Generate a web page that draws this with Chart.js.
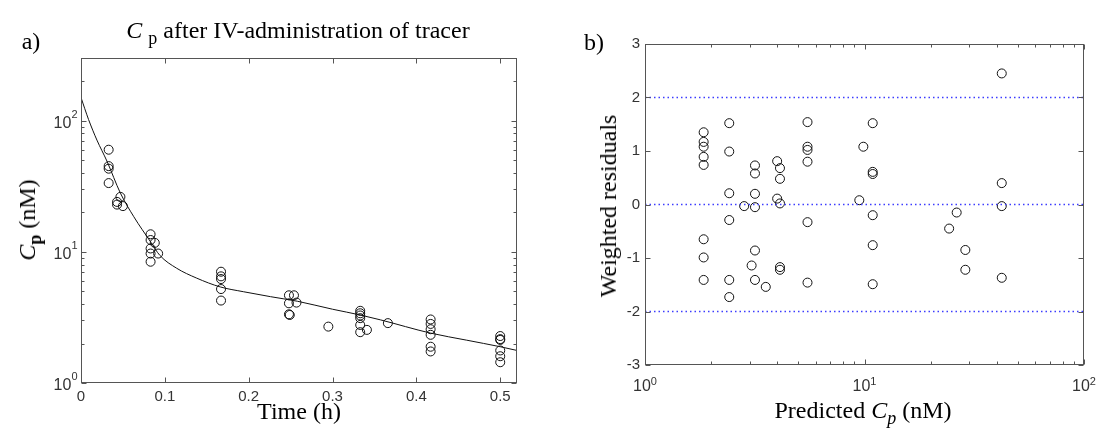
<!DOCTYPE html>
<html>
<head>
<meta charset="utf-8">
<script src="https://cdn.jsdelivr.net/npm/chart.js@4.4.0/dist/chart.umd.min.js"></script>
<style>
  body { margin: 0; background: #fff; }
  #wrap { position: relative; width: 1096px; height: 430px; overflow: hidden; font-family: "Liberation Serif", "Times New Roman", serif; color: #000; }
  .box { position: absolute; top: 0; width: 548px; height: 430px; }
  .lbl { position: absolute; white-space: nowrap; font-size: 24px; line-height: 1; }
  .ctr { transform: translate(-50%, -50%); }
  .rot { transform: translate(-50%, -50%) rotate(-90deg); }
  sub { font-size: 0.75em; vertical-align: -0.35em; line-height: 0; }
</style>
</head>
<body>
<div id="wrap">
  <div class="box" style="left:0"><canvas id="cpChart"></canvas></div>
  <div class="box" style="left:548px"><canvas id="resChart"></canvas></div>

  <div class="lbl ctr" style="left:31px;top:41px">a)</div>
  <div class="lbl ctr" style="left:298px;top:30px"><i>C</i>&nbsp;<sub>p</sub> after IV-administration of tracer</div>
  <div class="lbl ctr" style="left:299px;top:411px">Time (h)</div>
  <div class="lbl rot" style="left:27px;top:220px"><i>C</i><sub><b>p</b></sub> (nM)</div>

  <div class="lbl ctr" style="left:594px;top:42px">b)</div>
  <div class="lbl rot" style="left:608px;top:206px">Weighted residuals</div>
  <div class="lbl ctr" style="left:863px;top:410px">Predicted <i>C<sub>p</sub></i> (nM)</div>
</div>
<script>
// panel a: observed tracer concentrations (nM) vs time (h)
const obsTime = [0.033, 0.033, 0.033, 0.033, 0.043, 0.043, 0.047, 0.05,
  0.083, 0.083, 0.088, 0.083, 0.083, 0.092, 0.083,
  0.167, 0.167, 0.167, 0.167, 0.167,
  0.248, 0.248, 0.248, 0.249, 0.254, 0.257, 0.295,
  0.333, 0.333, 0.333, 0.333, 0.333, 0.333, 0.341, 0.366,
  0.417, 0.417, 0.417, 0.417, 0.417, 0.417,
  0.5, 0.5, 0.5, 0.5, 0.5, 0.5];
const obsConc = [60, 45, 43, 33.4, 24, 22.9, 26.2, 22.3,
  13.6, 12.3, 11.7, 10.6, 9.7, 9.7, 8.4,
  7.05, 6.5, 6.2, 5.2, 4.25,
  4.66, 4.05, 3.34, 3.3, 4.66, 4.1, 2.69,
  3.55, 3.4, 3.27, 3.12, 2.77, 2.44, 2.54, 2.86,
  3.05, 2.82, 2.57, 2.33, 1.89, 1.74,
  2.28, 2.16, 2.13, 1.77, 1.6, 1.44];
// fitted curve
const fitTime = [0, 0.009, 0.019, 0.031, 0.047, 0.063, 0.083, 0.094, 0.114, 0.138, 0.166,
  0.194, 0.226, 0.258, 0.3, 0.333, 0.357, 0.417, 0.46, 0.5, 0.52];
const fitConc = [150, 102, 71, 49, 28, 18.5, 11.9, 9.4, 7.5, 6.3, 5.4,
  4.96, 4.55, 4.2, 3.65, 3.3, 3.03, 2.4, 2.12, 1.89, 1.77];
const timeTicks = [0, 0.1, 0.2, 0.3, 0.4, 0.5];
const concMajor = [1, 10, 100];
const concMinor = [2, 3, 4, 5, 6, 7, 8, 9, 20, 30, 40, 50, 60, 70, 80, 90, 200];

// panel b: weighted residuals vs predicted Cp
const predCp = [1.85, 1.85, 1.85, 1.85, 1.85, 1.85, 1.85, 1.85,
  2.42, 2.42, 2.42, 2.42, 2.42, 2.42,
  2.83,
  3.17, 3.17, 3.17, 3.17, 3.17, 3.17, 3.06, 3.55,
  4.0, 4.0, 4.12, 4.12, 4.12, 4.12, 4.12,
  5.5, 5.5, 5.5, 5.5, 5.5, 5.5,
  9.47, 9.88,
  10.9, 10.9, 10.9, 10.9, 10.9, 10.9,
  24.3, 26.3, 28.8, 28.8,
  42.2, 42.2, 42.2, 42.2];
const wRes = [1.35, 1.17, 1.08, 0.89, 0.74, -0.65, -0.99, -1.41,
  1.52, 0.99, 0.21, -0.29, -1.41, -1.73,
  -0.03,
  0.73, 0.58, 0.2, -0.05, -0.86, -1.41, -1.14, -1.54,
  0.81, 0.11, 0.68, 0.48, 0.02, -1.17, -1.22,
  1.54, 1.08, 1.02, 0.8, -0.33, -1.46,
  0.08, 1.08,
  1.52, 0.61, 0.57, -0.2, -0.76, -1.49,
  -0.45, -0.15, -0.85, -1.22,
  2.45, 0.4, -0.03, -1.37];
const predMajor = [1, 10, 100];
const predMinor = [2, 3, 4, 5, 6, 7, 8, 9, 20, 30, 40, 50, 60, 70, 80, 90];
const resTicks = [-3, -2, -1, 0, 1, 2, 3];
const refLevels = [2, 0, -2];

const sansFont = '"Liberation Sans", Arial, sans-serif';

function drawPow(ctx, v, px, base, align, rise) {
  const exp = String(Math.round(Math.log10(v)));
  ctx.font = '16px ' + sansFont;
  const wb = ctx.measureText('10').width;
  ctx.font = '11px ' + sansFont;
  const we = ctx.measureText(exp).width;
  const x0 = align === 'right' ? px - wb - we : px - (wb + we) / 2;
  ctx.textAlign = 'left';
  ctx.textBaseline = 'alphabetic';
  ctx.font = '16px ' + sansFont;
  ctx.fillText('10', x0, base);
  ctx.font = '11px ' + sansFont;
  ctx.fillText(exp, x0 + wb, base - rise);
}

// matlab style box with inward ticks, plus 10^k labels
const frameTicks = {
  id: 'frameTicks',
  afterDatasetsDraw(chart, args, o) {
    const { ctx, chartArea: a } = chart;
    const x = chart.scales.x, y = chart.scales.y;
    const L = Math.round(a.left) + 0.5, R = Math.round(a.right) - 0.5;
    const T = Math.round(a.top) + 0.5, B = Math.round(a.bottom) - 0.5;
    ctx.save();
    ctx.strokeStyle = '#555';
    ctx.lineWidth = 1;
    ctx.strokeRect(L, T, R - L, B - T);
    ctx.beginPath();
    const tickX = (vals, len) => vals.forEach(v => {
      const p = Math.round(x.getPixelForValue(v)) + 0.5;
      ctx.moveTo(p, B); ctx.lineTo(p, B - len);
      ctx.moveTo(p, T); ctx.lineTo(p, T + len);
    });
    const tickY = (vals, len) => vals.forEach(v => {
      const p = Math.round(y.getPixelForValue(v)) + 0.5;
      ctx.moveTo(L, p); ctx.lineTo(L + len, p);
      ctx.moveTo(R, p); ctx.lineTo(R - len, p);
    });
    tickX(o.xMajor || [], 5);
    tickX(o.xMinor || [], 3);
    tickY(o.yMajor || [], 5);
    tickY(o.yMinor || [], 3);
    ctx.stroke();
    ctx.fillStyle = '#333';
    (o.xPow || []).forEach(v => drawPow(ctx, v, x.getPixelForValue(v), B + 26, 'center', 6));
    (o.yPow || []).forEach(v => drawPow(ctx, v, L - 4, y.getPixelForValue(v) + 7, 'right', 10));
    ctx.restore();
  }
};

const hiddenGrid = { display: false, drawTicks: false };

new Chart(document.getElementById('cpChart'), {
  type: 'scatter',
  data: {
    datasets: [{
      data: obsTime.map((t, i) => ({ x: t, y: obsConc[i] })),
      pointRadius: 4.5,
      pointBorderWidth: 1,
      pointBorderColor: '#111',
      pointBackgroundColor: 'rgba(0,0,0,0)',
      showLine: false
    }, {
      data: fitTime.map((t, i) => ({ x: t, y: fitConc[i] })),
      showLine: true,
      borderColor: '#111',
      borderWidth: 1,
      pointRadius: 0,
      cubicInterpolationMode: 'monotone'
    }]
  },
  options: {
    responsive: true,
    maintainAspectRatio: false,
    animation: false,
    layout: { padding: { left: 0, right: 31, top: 58, bottom: 0 } },
    plugins: {
      legend: { display: false },
      tooltip: { enabled: false },
      frameTicks: { xMajor: timeTicks, yMajor: concMajor, yMinor: concMinor, yPow: concMajor }
    },
    scales: {
      x: {
        type: 'linear', min: 0, max: 0.52,
        afterBuildTicks: s => { s.ticks = timeTicks.map(v => ({ value: v })); },
        afterFit: s => { s.height = 47; },
        grid: hiddenGrid,
        border: { display: false },
        ticks: { padding: 5, color: '#333', font: { family: sansFont, size: 15 }, callback: v => String(v) }
      },
      y: {
        type: 'logarithmic', min: 1, max: 300,
        afterBuildTicks: s => { s.ticks = concMajor.map(v => ({ value: v })); },
        afterFit: s => { s.width = 81; },
        grid: hiddenGrid,
        border: { display: false },
        ticks: { display: false }
      }
    }
  },
  plugins: [frameTicks]
});

new Chart(document.getElementById('resChart'), {
  type: 'scatter',
  data: {
    datasets: refLevels.map(v => ({
      data: [{ x: predMajor[0], y: v }, { x: predMajor[predMajor.length - 1], y: v }],
      showLine: true,
      borderColor: 'rgb(60,60,255)',
      borderWidth: 1.5,
      borderDash: [1.5, 3],
      pointRadius: 0
    })).concat([{
      data: predCp.map((p, i) => ({ x: p, y: wRes[i] })),
      pointRadius: 4.5,
      pointBorderWidth: 1,
      pointBorderColor: '#111',
      pointBackgroundColor: 'rgba(0,0,0,0)',
      showLine: false
    }])
  },
  options: {
    responsive: true,
    maintainAspectRatio: false,
    animation: false,
    layout: { padding: { left: 0, right: 12, top: 44, bottom: 0 } },
    plugins: {
      legend: { display: false },
      tooltip: { enabled: false },
      frameTicks: { xMajor: predMajor, xMinor: predMinor, yMajor: resTicks, xPow: predMajor }
    },
    scales: {
      x: {
        type: 'logarithmic', min: 1, max: 100,
        afterBuildTicks: s => { s.ticks = predMajor.map(v => ({ value: v })); },
        afterFit: s => { s.height = 65; },
        grid: hiddenGrid,
        border: { display: false },
        ticks: { display: false }
      },
      y: {
        type: 'linear', min: -3, max: 3,
        afterBuildTicks: s => { s.ticks = resTicks.map(v => ({ value: v })); },
        afterFit: s => { s.width = 97; },
        grid: hiddenGrid,
        border: { display: false },
        ticks: { padding: 5, color: '#333', font: { family: sansFont, size: 15 }, callback: v => String(v) }
      }
    }
  },
  plugins: [frameTicks]
});
</script>
</body>
</html>
